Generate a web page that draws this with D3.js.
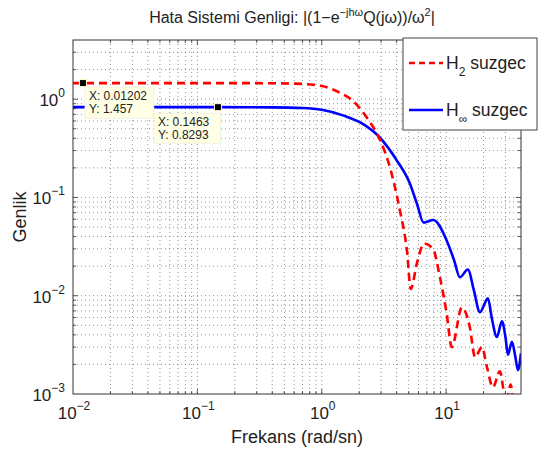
<!DOCTYPE html>
<html>
<head>
<meta charset="utf-8">
<script src="https://cdn.jsdelivr.net/npm/d3@7"></script>
<style>
  body { margin: 0; background: #fff; }
  text { font-family: "Liberation Sans", Arial, Helvetica, sans-serif; fill: #222; }
</style>
</head>
<body>
<div id="chart"></div>
<script>
// values
const freqH2 = [0.01, 0.012, 0.3, 0.6, 1.0, 1.4, 1.78, 2.31, 2.94, 3.54, 4.25, 4.84, 5.2, 5.82, 6.64, 7.83, 8.92, 10.1, 11.1, 13.4, 15.5, 17.1, 19.4, 21.3, 23.8, 27.0, 30.5, 33.0, 36.5, 40];
const magH2 = [1.457, 1.457, 1.455, 1.44, 1.36, 1.16, 0.96, 0.646, 0.385, 0.201, 0.0736, 0.0289, 0.0117, 0.0213, 0.034, 0.030, 0.0154, 0.0066, 0.0030, 0.0076, 0.0048, 0.00237, 0.0030, 0.00188, 0.00117, 0.0017, 0.0008, 0.00125, 0.0005, 0.0007];

const freqHinf = [0.01, 0.1463, 0.4, 0.7, 1.0, 1.5, 2.14, 2.94, 4.02, 5.12, 5.82, 6.6, 7.9, 10.1, 11.6, 12.9, 14.96, 16.7, 18.7, 21.7, 23.3, 25.6, 28.1, 30.0, 31.4, 33.8, 36.0, 37.8, 40];
const magHinf = [0.8293, 0.8293, 0.825, 0.812, 0.78, 0.68, 0.56, 0.405, 0.237, 0.138, 0.0866, 0.0555, 0.059, 0.0365, 0.0229, 0.0154, 0.0185, 0.0114, 0.0068, 0.0094, 0.0059, 0.0038, 0.0055, 0.0038, 0.0025, 0.0034, 0.0024, 0.00175, 0.0026];

const xDomain = [0.01, 40];
const yDomain = [1e-3, 4];
const xMajor = [-2, -1, 0, 1];
const yMajor = [-3, -2, -1, 0];

const dataTips = [
    { f: 0.01202, v: 1.457, lines: ["X: 0.01202", "Y: 1.457"], dx: 2, dy: 4, w: 69, h: 31 },
    { f: 0.1463, v: 0.8293, lines: ["X: 0.1463", "Y: 0.8293"], dx: -64, dy: 6, w: 67, h: 30 }
];

const W = 538, H = 450;
const margin = { left: 73, right: 17, top: 40, bottom: 56 };
const iw = W - margin.left - margin.right,
    ih = H - margin.top - margin.bottom;

let svg = d3.select("#chart").append("svg")
    .attr("width", W)
    .attr("height", H)
    .style("display", "block");

let x = d3.scaleLog().domain(xDomain).range([0, iw]);
let y = d3.scaleLog().domain(yDomain).range([ih, 0]);

let g = svg.append("g").attr("transform", `translate(${margin.left},${margin.top})`);

svg.append("defs").append("clipPath").attr("id", "plotclip")
    .append("rect").attr("width", iw).attr("height", ih);

// grid values (major + minor) in each decade
function gridValues(domain) {
    let vals = [];
    for (let e = -4; e <= 2; e++) {
        for (let m = 1; m <= 9; m++) {
            let v = m * Math.pow(10, e);
            if (v > domain[0] * 1.0001 && v < domain[1] * 0.9999) vals.push({ v: v, major: m === 1 });
        }
    }
    return vals;
}
const xGrid = gridValues(xDomain);
const yGrid = gridValues(yDomain);

g.append("g").selectAll("line")
    .data(xGrid)
    .enter().append("line")
    .attr("x1", d => x(d.v)).attr("x2", d => x(d.v))
    .attr("y1", 0).attr("y2", ih)
    .attr("stroke", "#7a7a7a")
    .attr("stroke-width", 0.8)
    .attr("stroke-dasharray", "1,3");

g.append("g").selectAll("line")
    .data(yGrid)
    .enter().append("line")
    .attr("y1", d => y(d.v)).attr("y2", d => y(d.v))
    .attr("x1", 0).attr("x2", iw)
    .attr("stroke", "#7a7a7a")
    .attr("stroke-width", 0.8)
    .attr("stroke-dasharray", "1,3");

// ticks on all four sides, pointing inward
let ticks = g.append("g").attr("stroke", "#333").attr("stroke-width", 0.8);
xGrid.forEach(d => {
    let len = d.major ? 5 : 3;
    ticks.append("line").attr("x1", x(d.v)).attr("x2", x(d.v)).attr("y1", ih).attr("y2", ih - len);
    ticks.append("line").attr("x1", x(d.v)).attr("x2", x(d.v)).attr("y1", 0).attr("y2", len);
});
yGrid.forEach(d => {
    let len = d.major ? 5 : 3;
    ticks.append("line").attr("y1", y(d.v)).attr("y2", y(d.v)).attr("x1", 0).attr("x2", len);
    ticks.append("line").attr("y1", y(d.v)).attr("y2", y(d.v)).attr("x1", iw).attr("x2", iw - len);
});

// curves
let line = d3.line()
    .x(d => x(d[0]))
    .y(d => y(d[1]))
    .curve(d3.curveMonotoneX);

let curves = g.append("g").attr("clip-path", "url(#plotclip)");

curves.append("path")
    .datum(d3.zip(freqHinf, magHinf))
    .attr("d", line)
    .attr("fill", "none")
    .attr("stroke", "#0000ff")
    .attr("stroke-width", 2.6);

curves.append("path")
    .datum(d3.zip(freqH2, magH2))
    .attr("d", line)
    .attr("fill", "none")
    .attr("stroke", "#ff0000")
    .attr("stroke-width", 2.6)
    .attr("stroke-dasharray", "8,5");

// axes box
g.append("rect")
    .attr("width", iw).attr("height", ih)
    .attr("fill", "none")
    .attr("stroke", "#333")
    .attr("stroke-width", 1);

// tick labels 10^n
function powLabel(sel, e) {
    sel.append("tspan").text("10");
    sel.append("tspan").attr("dy", -9).style("font-size", "12px").text(e < 0 ? "\u2212" + Math.abs(e) : String(e));
}

xMajor.forEach(e => {
    let t = g.append("text")
        .attr("x", x(Math.pow(10, e)) + 1)
        .attr("y", ih + 25)
        .attr("text-anchor", "middle")
        .style("font-size", "17px");
    powLabel(t, e);
});

yMajor.forEach(e => {
    let t = g.append("text")
        .attr("x", -8)
        .attr("y", y(Math.pow(10, e)) + 7)
        .attr("text-anchor", "end")
        .style("font-size", "17px");
    powLabel(t, e);
});

// axis titles
svg.append("text")
    .attr("x", margin.left + iw / 2)
    .attr("y", 443)
    .attr("text-anchor", "middle")
    .style("font-size", "18px")
    .text("Frekans (rad/sn)");

svg.append("text")
    .attr("transform", `translate(26,${margin.top + ih / 2}) rotate(-90)`)
    .attr("text-anchor", "middle")
    .style("font-size", "18px")
    .text("Genlik");

// title
let title = svg.append("text")
    .attr("x", margin.left + iw / 2 - 5)
    .attr("y", 23)
    .attr("text-anchor", "middle")
    .style("font-size", "16px");
title.append("tspan").text("Hata Sistemi Genligi: |(1\u2212e");
title.append("tspan").attr("dy", -7).style("font-size", "11px").text("\u2212jh\u03c9");
title.append("tspan").attr("dy", 7).text("Q(j\u03c9))/\u03c9");
title.append("tspan").attr("dy", -7).style("font-size", "11px").text("2");
title.append("tspan").attr("dy", 7).text("|");

// data tips
dataTips.forEach(tip => {
    let px = x(tip.f), py = y(tip.v);
    let bx = px + tip.dx, by = py + tip.dy;
    g.append("rect")
        .attr("x", bx).attr("y", by)
        .attr("width", tip.w).attr("height", tip.h)
        .attr("fill", "#ffffe6")
        .attr("stroke", "#e8e8d0")
        .attr("stroke-width", 0.6);
    tip.lines.forEach((s, i) => {
        g.append("text")
            .attr("x", bx + 4)
            .attr("y", by + 13 + i * 13)
            .style("font-size", "12px")
            .text(s);
    });
    g.append("rect")
        .attr("x", px - 3.5).attr("y", py - 3.5)
        .attr("width", 7).attr("height", 7)
        .attr("fill", "#000")
        .attr("stroke", "#ffffcc")
        .attr("stroke-width", 1);
});

// legend
let lg = svg.append("g").attr("transform", "translate(403,38)");
lg.append("rect")
    .attr("width", 134).attr("height", 92)
    .attr("fill", "#fff")
    .attr("stroke", "#444")
    .attr("stroke-width", 1);

const legendItems = [
    { color: "#ff0000", dash: "6,4", sub: "2", ly: 25 },
    { color: "#0000ff", dash: null, sub: "\u221e", ly: 72 }
];
legendItems.forEach(it => {
    let l = lg.append("line")
        .attr("x1", 6).attr("x2", 40)
        .attr("y1", it.ly).attr("y2", it.ly)
        .attr("stroke", it.color)
        .attr("stroke-width", 2.6);
    if (it.dash) l.attr("stroke-dasharray", it.dash);
    let t = lg.append("text")
        .attr("x", 43).attr("y", it.ly + 6)
        .style("font-size", "17.5px");
    t.append("tspan").text("H");
    t.append("tspan").attr("dy", 7).style("font-size", "12px").text(it.sub);
    t.append("tspan").attr("dy", -7).text(" suzgec");
});
</script>
</body>
</html>
